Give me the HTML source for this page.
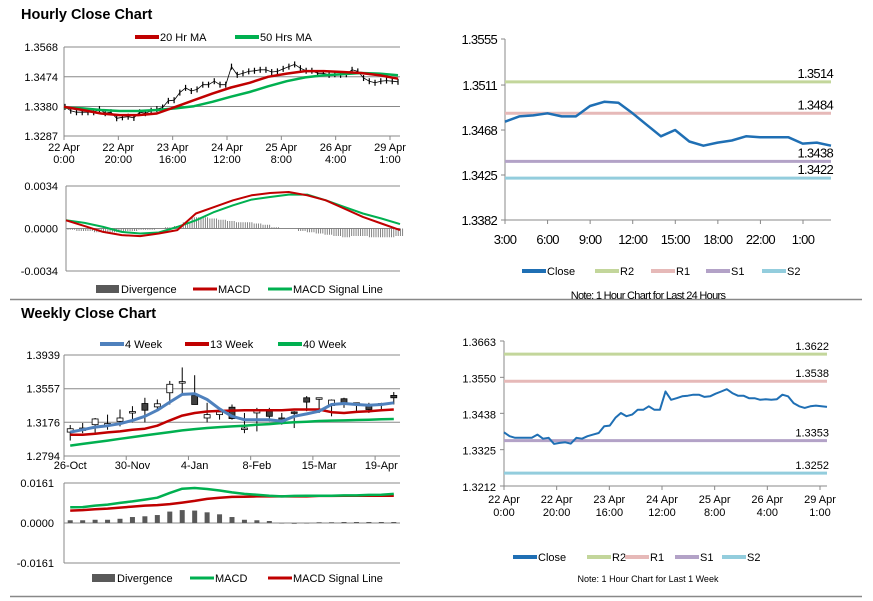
<!DOCTYPE html>
<html><head><meta charset="utf-8">
<style>
html,body{margin:0;padding:0;background:#fff;}
svg{display:block;font-family:"Liberation Sans",Arial,sans-serif;}
.t{font-size:11px;fill:#000;}
</style></head>
<body>
<svg id="s" width="873" height="601" viewBox="0 0 873 601" xmlns="http://www.w3.org/2000/svg">
<text x="21" y="19" font-size="14.5" font-weight="bold">Hourly Close Chart</text>
<text x="21" y="318" font-size="14.5" font-weight="bold">Weekly Close Chart</text>
<line x1="10" y1="299.5" x2="862" y2="299.5" stroke="#888" stroke-width="1.5"/>
<line x1="10" y1="596.5" x2="862" y2="596.5" stroke="#888" stroke-width="1.5"/>
<g id="g"></g>
</svg>
<script>
// ---------- DATA ----------
const hourlyCloses = [1.3379,1.3367,1.3362,1.3362,1.3362,1.3362,1.3372,1.3359,1.3362,1.3343,1.3346,1.3348,1.3344,1.3362,1.3359,1.3367,1.3372,1.3377,1.3398,1.3400,1.3424,1.3439,1.3429,1.3434,1.3449,1.3449,1.3460,1.3449,1.3449,1.3506,1.3480,1.3485,1.3491,1.3493,1.3496,1.3496,1.3489,1.3491,1.3499,1.3506,1.3513,1.3501,1.3493,1.3493,1.3485,1.3485,1.3480,1.3482,1.3480,1.3482,1.3496,1.3491,1.3470,1.3460,1.3455,1.3460,1.3462,1.3460,1.3458];
const ma20 = [1.3379,1.3369,1.3358,1.3353,1.3353,1.3358,1.3379,1.3400,1.3421,1.3440,1.3455,1.3474,1.3484,1.3492,1.3492,1.3489,1.3486,1.3479,1.3468];
const ma50 = [1.3377,1.3374,1.3369,1.3366,1.3366,1.3369,1.3374,1.3381,1.3395,1.3411,1.3426,1.3444,1.3460,1.3472,1.3479,1.3482,1.3486,1.3484,1.3479];
const hourlyTicks = [["22 Apr","0:00"],["22 Apr","20:00"],["23 Apr","16:00"],["24 Apr","12:00"],["25 Apr","8:00"],["26 Apr","4:00"],["29 Apr","1:00"]];
const hPriceTicks = [1.3287,1.3380,1.3474,1.3568];
const hMacd = [0.00066,0.00019,-0.00027,-0.00053,-0.00061,-0.0004,-0.00013,0.0012,0.00173,0.00226,0.00266,0.00284,0.00292,0.00266,0.00226,0.00159,0.00093,0.0004,-0.00013];
const hSignal = [0.00066,0.00045,0.00013,-0.00027,-0.0004,-0.00032,0.00013,0.00066,0.00133,0.00186,0.00231,0.00252,0.00271,0.00271,0.00226,0.00173,0.0012,0.0008,0.00035];
const hDiv = [-0.0001,-0.0002,-0.0002,-0.0003,-0.0003,-0.0003,-0.0002,-0.0002,-0.0001,-0.0001,0.0000,0.0001,0.0002,0.0005,0.0009,0.0009,0.0008,0.0007,0.0006,0.0005,0.0005,0.0004,0.0003,0.0001,0.0000,0.0000,-0.0002,-0.0003,-0.0004,-0.0005,-0.0006,-0.0007,-0.0006,-0.0006,-0.0007,-0.0007,-0.0007,-0.0006];
const hMacdTicks = [-0.0034,0.0000,0.0034];

const wOpen  = [1.3065,1.3084,1.3149,1.3158,1.3187,1.3282,1.3389,1.3351,1.3511,1.3626,1.3481,1.3225,1.3263,1.3347,1.3103,1.3282,1.3302,1.3225,1.3294,1.3454,1.3443,1.3366,1.3443,1.3386,1.3378,1.3378,1.3481];
const wHigh  = [1.3145,1.3168,1.3225,1.3263,1.3321,1.3359,1.3454,1.3435,1.3645,1.3798,1.3710,1.3397,1.3298,1.3378,1.3282,1.3340,1.3340,1.3282,1.3302,1.3473,1.3454,1.3435,1.3454,1.3397,1.3397,1.3397,1.3519];
const wLow   = [1.2969,1.3053,1.3053,1.3092,1.3130,1.3176,1.3176,1.3328,1.3378,1.3492,1.3378,1.3176,1.3206,1.3206,1.3053,1.3073,1.3187,1.3149,1.3111,1.3302,1.3282,1.3244,1.3340,1.3282,1.3282,1.3302,1.3378];
const wClose = [1.3103,1.3111,1.3214,1.3162,1.3225,1.3298,1.3313,1.3386,1.3607,1.3637,1.3378,1.3263,1.3294,1.3218,1.3111,1.3309,1.3244,1.3176,1.3282,1.3405,1.3454,1.3428,1.3386,1.3397,1.3321,1.3389,1.3454];
const ma4w  = [1.3065,1.3092,1.3122,1.3137,1.3160,1.3198,1.3244,1.3313,1.3405,1.3492,1.3500,1.3435,1.3328,1.3244,1.3206,1.3206,1.3206,1.3187,1.3244,1.3271,1.3302,1.3378,1.3389,1.3378,1.3370,1.3378,1.3397];
const ma13w = [1.3034,1.3034,1.3046,1.3061,1.3073,1.3092,1.3103,1.3137,1.3198,1.3252,1.3282,1.3298,1.3305,1.3309,1.3313,1.3313,1.3313,1.3313,1.3321,1.3321,1.3321,1.3290,1.3282,1.3294,1.3302,1.3313,1.3321];
const ma40w = [1.2912,1.2931,1.2950,1.2969,1.2989,1.3008,1.3027,1.3046,1.3065,1.3084,1.3099,1.3111,1.3122,1.3130,1.3137,1.3149,1.3156,1.3168,1.3176,1.3183,1.3191,1.3195,1.3198,1.3202,1.3206,1.3210,1.3214];
const weekLabels = ["26-Oct","30-Nov","4-Jan","8-Feb","15-Mar","19-Apr"];
const weekLabelIdx = [0,5,10,15,20,25];
const wPriceTicks = [1.2794,1.3176,1.3557,1.3939];
const wMacd = [0.0063,0.0064,0.0070,0.0074,0.0081,0.0087,0.0094,0.0102,0.0121,0.0138,0.0141,0.0137,0.0131,0.0123,0.0117,0.0114,0.0110,0.0107,0.0109,0.0110,0.0110,0.0110,0.0111,0.0111,0.0113,0.0114,0.0117];
const wSignal = [0.0050,0.0052,0.0055,0.0058,0.0062,0.0066,0.0070,0.0072,0.0076,0.0082,0.0089,0.0097,0.0102,0.0105,0.0106,0.0107,0.0107,0.0107,0.0107,0.0107,0.0109,0.0109,0.0110,0.0110,0.0110,0.0110,0.0110];
const wDiv = [0.0011,0.0011,0.0013,0.0013,0.0017,0.0024,0.0027,0.0032,0.0046,0.0052,0.0050,0.0043,0.0035,0.0024,0.0013,0.0011,0.0008,0.0000,-0.0003,-0.0001,0.0003,0.0003,0.0004,0.0004,0.0004,0.0004,0.0004];
const wMacdTicks = [-0.0161,0.0000,0.0161];

const dayCloses = [1.3476,1.3481,1.3482,1.3484,1.3481,1.3481,1.3491,1.3495,1.3494,1.3484,1.3473,1.3462,1.3468,1.3457,1.3453,1.3456,1.3458,1.3462,1.3461,1.3461,1.3461,1.3455,1.3456,1.3453];
const dayTicks = ["3:00","6:00","9:00","12:00","15:00","18:00","22:00","1:00"];
const dayYTicks = [1.3382,1.3425,1.3468,1.3511,1.3555];
const dayLevels = [1.3514,1.3484,1.3438,1.3422];
const weekYTicks = [1.3212,1.3325,1.3438,1.3550,1.3663];
const weekLevels = [1.3622,1.3538,1.3353,1.3252];
const levelNames = ["R2","R1","S1","S2"];
const levelColors = ["#c3d69b","#e6b9b8","#b3a2c7","#93cddd"];

// ---------- HELPERS ----------
const NS="http://www.w3.org/2000/svg";
const G=document.getElementById('g');
function mk(tag,attrs,parent,txt){const e=document.createElementNS(NS,tag);for(const k in attrs)e.setAttribute(k,attrs[k]);if(txt!==undefined)e.textContent=txt;(parent||G).appendChild(e);return e;}
function lin(d0,d1,r0,r1){return v=>r0+(v-d0)/(d1-d0)*(r1-r0);}
function poly(vals,xf,yf,color,w,name){
  const pts=vals.map((v,i)=>xf(i).toFixed(1)+","+yf(v).toFixed(1)).join(" ");
  const p=mk('polyline',{points:pts,fill:'none',stroke:color,'stroke-width':w,'stroke-linejoin':'round'});
  
  
  return p;
}
function legendLine(x,y,color,label,w,name){
  const g=mk('g',{});
  
  
  mk('line',{x1:x,y1:y,x2:x+24,y2:y,stroke:color,'stroke-width':w||4},g);
  mk('text',{x:x+25,y:y+4,'font-size':11},g,label);
}
function legendBox(x,y,label,name){
  const g=mk('g',{});
  
  
  mk('rect',{x:x,y:y-4,width:23,height:8,fill:'#595959'},g);
  mk('text',{x:x+25,y:y+4,'font-size':11},g,label);
}
function grid(y,x0,x1){const l=mk('line',{x1:x0,y1:y,x2:x1,y2:y,stroke:'#888','stroke-width':1});}

// ---------- PANEL A: hourly price ----------
(function(){
  const x0=64,x1=400,yT=47,yB=136;
  const y=lin(1.3287,1.3568,yB,yT);
  hPriceTicks.forEach(v=>{grid(y(v),x0,x1);const t=mk('text',{x:x0-6,y:y(v)+4,'text-anchor':'end',class:'t'},G,v.toFixed(4));});
  mk('line',{x1:x0,y1:yT,x2:x0,y2:yB,stroke:'#888'});
  const tx=lin(0,hourlyTicks.length-1,64,390);
  hourlyTicks.forEach((t,i)=>{mk('line',{x1:tx(i),y1:yB,x2:tx(i),y2:yB+4,stroke:'#888'});
    const e=mk('text',{x:tx(i),y:yB+15,'text-anchor':'middle',class:'t'},G,t[0]);
    mk('text',{x:tx(i),y:yB+27,'text-anchor':'middle',class:'t'},G,t[1]);});
  const xc=lin(0,hourlyCloses.length-1,x0+1,x1-2);
  hourlyCloses.forEach((v,i)=>{const b=mk('line',{x1:xc(i),y1:y(v)-3,x2:xc(i),y2:y(v)+3,stroke:'#000','stroke-width':1.2});});
  poly(hourlyCloses,xc,y,'#000',0.8,'hourly-close-line');
  const xm=lin(0,ma20.length-1,x0,x1-2);
  poly(ma50,xm,y,'#00b050',2.5,'ma50-line');
  poly(ma20,xm,y,'#c00000',2.5,'ma20-line');
  legendLine(135,37,'#c00000','20 Hr MA',4,'legend-ma20');
  legendLine(235,37,'#00b050','50 Hrs MA',4,'legend-ma50');
})();

// ---------- PANEL B: hourly MACD ----------
(function(){
  const x0=66,x1=400,yT=186,yB=271;
  const y=lin(-0.0034,0.0034,yB,yT);
  hMacdTicks.forEach(v=>{grid(y(v),x0,x1);const t=mk('text',{x:x0-8,y:y(v)+4,'text-anchor':'end',class:'t'},G,v.toFixed(4));});
  mk('line',{x1:x0,y1:yT,x2:x0,y2:yB,stroke:'#888'});
  const xd=lin(0,hDiv.length-1,x0+2,x1-4);
  hDiv.forEach((v,i)=>{for(let k=0;k<4;k++){const b=mk('line',{x1:xd(i)+k*2.2,y1:y(0),x2:xd(i)+k*2.2,y2:y(v),stroke:'#777','stroke-width':0.9});}});
  const xm=lin(0,hMacd.length-1,x0,x1);
  poly(hSignal,xm,y,'#00b050',2,'hourly-signal-line');
  poly(hMacd,xm,y,'#c00000',2,'hourly-macd-line');
  legendBox(96,289,'Divergence','legend-divergence');
  legendLine(193,289,'#c00000','MACD',3,'legend-macd');
  legendLine(268,289,'#00b050','MACD Signal Line',3,'legend-signal');
})();

// ---------- PANEL C: weekly price ----------
(function(){
  const x0=64,x1=400,yT=355,yB=456;
  const y=lin(1.2794,1.3939,yB,yT);
  const bw=(x1-x0)/wClose.length;
  const x=i=>x0+bw*(i+0.5);
  wPriceTicks.forEach(v=>{grid(y(v),x0,x1);const t=mk('text',{x:x0-4,y:y(v)+4,'text-anchor':'end',class:'t'},G,v.toFixed(4));});
  mk('line',{x1:x0,y1:yT,x2:x0,y2:yB,stroke:'#888'});
  weekLabelIdx.forEach((ix,j)=>{mk('line',{x1:x0+bw*ix,y1:yB,x2:x0+bw*ix,y2:yB+4,stroke:'#888'});
    const t=mk('text',{x:x(ix),y:yB+13,'text-anchor':'middle',class:'t'},G,weekLabels[j]);});
  wClose.forEach((c,i)=>{const o=wOpen[i];
    const g=mk('g',{});
    mk('line',{x1:x(i),y1:y(wHigh[i]),x2:x(i),y2:y(wLow[i]),stroke:'#000','stroke-width':1},g);
    const top=y(Math.max(o,c)),bot=y(Math.min(o,c));
    mk('rect',{x:x(i)-3,y:top,width:6,height:Math.max(1.5,bot-top),fill:c>=o?'#fff':'#404040',stroke:'#000','stroke-width':0.8},g);});
  poly(ma40w,x,y,'#00b050',2.5,'ma40w-line');
  poly(ma13w,x,y,'#c00000',2.5,'ma13w-line');
  poly(ma4w,x,y,'#4f81bd',3,'ma4w-line');
  legendLine(100,344,'#4f81bd','4 Week',4,'legend-4week');
  legendLine(185,344,'#c00000','13 Week',4,'legend-13week');
  legendLine(278,344,'#00b050','40 Week',4,'legend-40week');
})();

// ---------- PANEL D: weekly MACD ----------
(function(){
  const x0=64,x1=400,yT=483,yB=563;
  const y=lin(-0.0161,0.0161,yB,yT);
  const bw=(x1-x0)/wMacd.length;
  const x=i=>x0+bw*(i+0.5);
  wMacdTicks.forEach(v=>{grid(y(v),x0,x1);const t=mk('text',{x:x0-10,y:y(v)+4,'text-anchor':'end',class:'t'},G,v.toFixed(4));});
  mk('line',{x1:x0,y1:yT,x2:x0,y2:yB,stroke:'#888'});
  wDiv.forEach((v,i)=>{const b=mk('rect',{x:x(i)-2.5,y:Math.min(y(v),y(0)),width:5,height:Math.max(0.5,Math.abs(y(v)-y(0))),fill:'#595959'});});
  poly(wSignal,x,y,'#c00000',2.5,'weekly-signal-line');
  poly(wMacd,x,y,'#00b050',2.5,'weekly-macd-line');
  legendBox(92,578,'Divergence','legend-weekly-divergence');
  legendLine(190,578,'#00b050','MACD',3,'legend-weekly-macd');
  legendLine(268,578,'#c00000','MACD Signal Line',3,'legend-weekly-signal');
})();

// ---------- right panels ----------
function rightPanel(o){
  const y=lin(o.yt[0],o.yt[o.yt.length-1],o.yB,o.yT);
  mk('line',{x1:o.x0,y1:o.yT,x2:o.x0,y2:o.yB,stroke:'#888'});
  mk('line',{x1:o.x0,y1:o.yB,x2:o.x1,y2:o.yB,stroke:'#888'});
  o.yt.forEach(v=>{mk('line',{x1:o.x0-4,y1:y(v),x2:o.x0,y2:y(v),stroke:'#888'});
    const t=mk('text',{x:o.x0-8,y:y(v)+5,'text-anchor':'end','font-size':o.fs,'letter-spacing':o.ls,fill:'#000'},G,v.toFixed(4));});
  const tx=lin(0,o.xt.length-1,o.x0,o.xtEnd);
  o.xt.forEach((lab,i)=>{mk('line',{x1:tx(i),y1:o.yB,x2:tx(i),y2:o.yB+4,stroke:'#888'});
    const parts=Array.isArray(lab)?lab:[lab];
    parts.forEach((p,k)=>{const t=mk('text',{x:tx(i),y:o.yB+o.lab0+k*13,'text-anchor':'middle','font-size':o.fs,'letter-spacing':o.ls,fill:'#000'},G,p);});});
  o.levels.forEach((v,i)=>{const l=mk('line',{x1:o.x0,y1:y(v),x2:o.x1,y2:y(v),stroke:levelColors[i],'stroke-width':3});
    const t=mk('text',{x:o.x1+2,y:y(v)-4,'text-anchor':'end','font-size':o.fs,'letter-spacing':o.ls,fill:'#000'},G,v.toFixed(4));});
  const xc=lin(0,o.data.length-1,o.x0,o.x1);
  poly(o.data,xc,y,'#1f6fb4',o.lw,o.pre+'-close-line');
  const lg=o.leg;
  legendLine(lg[0],o.legY,'#1f6fb4','Close',4,o.pre+'-legend-close');
  levelNames.forEach((n,i)=>legendLine(lg[i+1],o.legY,levelColors[i],n,4,o.pre+'-legend-'+n.toLowerCase()));
  const t=mk('text',{x:648,y:o.noteY,'text-anchor':'middle','font-size':o.noteFs,'letter-spacing':o.ls,fill:'#000'},G,o.note);
}
rightPanel({pre:'daily',x0:505,x1:831,xtEnd:803,yT:39,yB:220,yt:dayYTicks,levels:dayLevels,data:dayCloses,xt:dayTicks,fs:13,ls:-0.7,lab0:24,lw:2.5,leg:[522,595,651,706,762],legY:271,noteY:299,noteFs:11,note:'Note: 1 Hour Chart for Last 24 Hours'});
rightPanel({pre:'weekly-hourly',x0:504,x1:827,xtEnd:820,yT:341,yB:486,yt:weekYTicks,levels:weekLevels,data:hourlyCloses,xt:hourlyTicks,fs:11,ls:0,lab0:17,lw:2,leg:[513,587,625,675,722],legY:557,noteY:582,noteFs:9,note:'Note: 1 Hour Chart for  Last 1 Week'});
</script>
</body></html>
